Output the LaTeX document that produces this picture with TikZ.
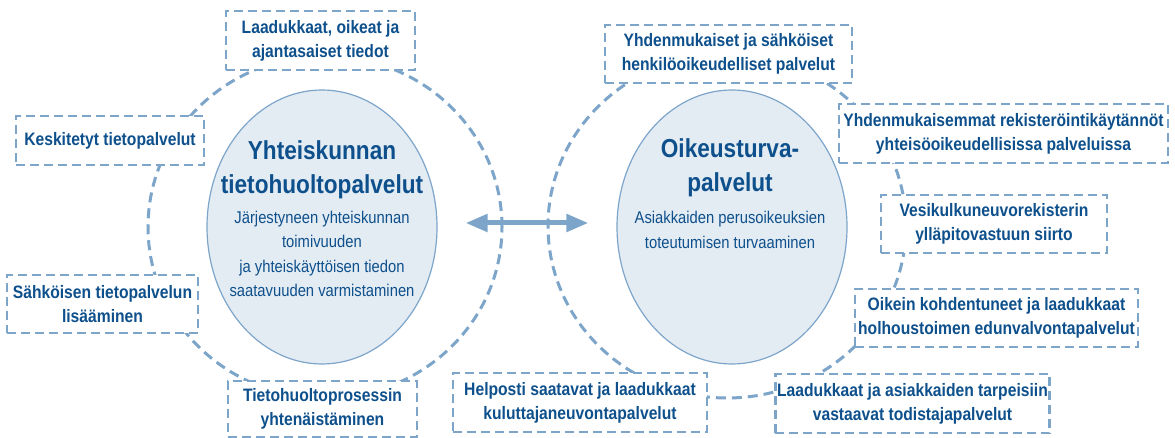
\documentclass[tikz,border=0pt]{standalone}
\usepackage{fontspec}
\setmainfont{Liberation Sans}[FakeStretch=0.87]
\usepackage{tikz}
\usetikzlibrary{positioning,arrows.meta,shapes.geometric}

\definecolor{textblue}{RGB}{14,80,140}
\definecolor{ringblue}{RGB}{125,165,202}
\definecolor{coreblue}{RGB}{227,235,243}

\begin{document}
\begin{tikzpicture}[x=1pt,y=-1pt,>={Triangle[length=22pt,width=17pt]}]
  \tikzstyle{ring}=[draw=ringblue,line width=3pt,dash pattern=on 10pt off 6pt]
  \tikzstyle{core}=[ellipse,draw=ringblue,line width=1.2pt,fill=coreblue,
                    minimum width=230pt,minimum height=274pt]
  \tikzstyle{goal}=[draw=ringblue,line width=2.8pt,dash pattern=on 9pt off 5pt,
                    fill=white,text=textblue,align=center,inner sep=2pt,
                    font=\bfseries\fontsize{18}{24}\selectfont]
  \tikzstyle{title}=[text=textblue,align=center,inner sep=0pt,
                     font=\bfseries\fontsize{26}{34}\selectfont]
  \tikzstyle{subtitle}=[text=textblue,align=center,inner sep=0pt,
                        font=\fontsize{17}{24.5}\selectfont]

  \useasboundingbox (0,0) rectangle (1175,438);

  % dashed rings behind the goals
  \coordinate (lc) at (325,227);
  \coordinate (rc) at (727,226);
  \draw[ring] (lc) ellipse [x radius=177pt,y radius=171pt];
  \draw[ring] (rc) ellipse [x radius=179pt,y radius=172pt];

  \node[core] (lcore) at (322,227) {};
  \node[core] (rcore) at (732,227) {};

  \node[title]    (ltitle) at (322,170) {Yhteiskunnan\\tietohuoltopalvelut};
  \node[subtitle] (lsub)   at (322,254) {Järjestyneen yhteiskunnan\\toimivuuden\\
                                         ja yhteiskäyttöisen tiedon\\saatavuuden varmistaminen};
  \node[title]    (rtitle) at (730,168) {Oikeusturva-\\palvelut};
  \node[subtitle] (rsub)   at (730,230) {Asiakkaiden perusoikeuksien\\toteutumisen turvaaminen};

  \draw[<->,draw=ringblue,line width=5pt,shorten <=28pt,shorten >=28pt]
    ([yshift=4pt]lcore.east) -- ([yshift=4pt]rcore.west);

  % left goals
  \node[goal,minimum width=189pt,minimum height=59pt] (quality)  at (320.5,40.5)
    {Laadukkaat, oikeat ja\\ajantasaiset tiedot};
  \node[goal,minimum width=188pt,minimum height=49pt] (central)  at (110,140.5)
    {Keskitetyt tietopalvelut};
  \node[goal,minimum width=191pt,minimum height=58pt] (eservice) at (102.5,304)
    {Sähköisen tietopalvelun\\lisääminen};
  \node[goal,minimum width=189pt,minimum height=56pt] (process)  at (322.5,409)
    {Tietohuoltoprosessin\\yhtenäistäminen};

  % right goals
  \node[goal,minimum width=247pt,minimum height=58pt] (personal) at (728.5,54)
    {Yhdenmukaiset ja sähköiset\\henkilöoikeudelliset palvelut};
  \node[goal,minimum width=329pt,minimum height=59pt] (register) at (1003.5,133.5)
    {Yhdenmukaisemmat rekisteröintikäytännöt\\yhteisöoikeudellisissa palveluissa};
  \node[goal,minimum width=226pt,minimum height=58pt] (vessel)   at (994,224)
    {Vesikulkuneuvorekisterin\\ylläpitovastuun siirto};
  \node[goal,minimum width=283pt,minimum height=58pt] (guardian) at (996.5,318)
    {Oikein kohdentuneet ja laadukkaat\\holhoustoimen edunvalvontapalvelut};
  \node[goal,minimum width=271pt,minimum height=59pt] (witness)  at (912.5,403.5)
    {Laadukkaat ja asiakkaiden tarpeisiin\\vastaavat todistajapalvelut};
  \node[goal,minimum width=254pt,minimum height=59pt] (consumer) at (580,402.5)
    {Helposti saatavat ja laadukkaat\\kuluttajaneuvontapalvelut};
\end{tikzpicture}
\end{document}
